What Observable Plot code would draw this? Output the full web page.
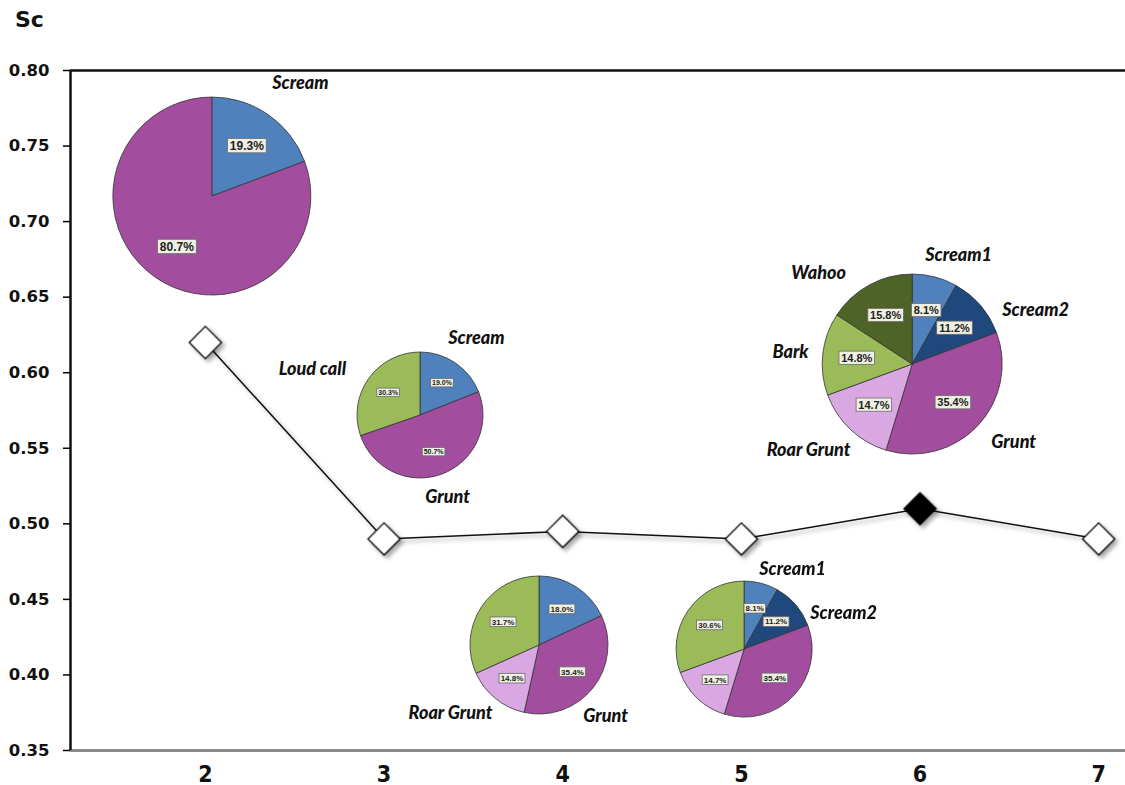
<!DOCTYPE html>
<html>
<head>
<meta charset="utf-8">
<script src="https://cdn.jsdelivr.net/npm/d3@7"></script>
<script src="https://cdn.jsdelivr.net/npm/@observablehq/plot@0.6"></script>
<style>
  body { margin: 0; background: #fff; }
  #title {
    height: 45px; box-sizing: border-box; padding: 7px 0 0 15px;
    font: bold 22px "DejaVu Sans"; line-height: 26px; color: #111;
  }
  #chart svg g[aria-label="dot"],
  #chart svg g[aria-label="line"] {
    filter: drop-shadow(3px 3px 2px rgba(0, 0, 0, 0.35));
  }
</style>
</head>
<body>
<div id="title">Sc</div>
<div id="chart"></div>
<script>
// Sc value for each number of clusters k
const kValues = [2, 3, 4, 5, 6, 7];
const scValues = [0.62, 0.49, 0.495, 0.49, 0.51, 0.49];
const bestK = 6;

// axis ticks
const xTicks = [2, 3, 4, 5, 6, 7];
const yTicks = [0.35, 0.40, 0.45, 0.50, 0.55, 0.60, 0.65, 0.70, 0.75, 0.80];

// call-type composition of the clusters, one pie per k (clockwise from 12 o'clock)
const pieK = [2, 3, 4, 5, 6];
const pieCalls = [
  ["Scream", "Grunt"],
  ["Scream", "Grunt", "Loud call"],
  ["Scream", "Grunt", "Roar Grunt", "Loud call"],
  ["Scream1", "Scream2", "Grunt", "Roar Grunt", "Loud call"],
  ["Scream1", "Scream2", "Grunt", "Roar Grunt", "Bark", "Wahoo"]
];
const piePercents = [
  [19.3, 80.7],
  [19.0, 50.7, 30.3],
  [18.0, 35.4, 14.8, 31.7],
  [8.1, 11.2, 35.4, 14.7, 30.6],
  [8.1, 11.2, 35.4, 14.7, 14.8, 15.8]
];

// colour of each call type
const callColors = {
  "Scream": "#4f81bd",
  "Scream1": "#4f81bd",
  "Scream2": "#1f497d",
  "Grunt": "#a34d9f",
  "Roar Grunt": "#d9a8e2",
  "Loud call": "#9bbb59",
  "Bark": "#9bbb59",
  "Wahoo": "#4f6228"
};

// placement of each pie (chart coordinates), its radius in px and label size
const pieLayout = [
  {x: 2.039, sc: 0.7166, r: 99, fontSize: 12},
  {x: 3.204, sc: 0.5717, r: 63, fontSize: 7},
  {x: 3.870, sc: 0.4195, r: 69, fontSize: 8},
  {x: 5.018, sc: 0.4168, r: 68, fontSize: 8},
  {x: 5.959, sc: 0.6054, r: 90, fontSize: 11}
];

// call-type names written beside the pies
const callLabels = [
  {text: "Scream", x: 2.532, sc: 0.7914},
  {text: "Scream", x: 3.517, sc: 0.6226},
  {text: "Loud call", x: 2.599, sc: 0.6021},
  {text: "Grunt", x: 3.355, sc: 0.5174},
  {text: "Roar Grunt", x: 3.372, sc: 0.3745},
  {text: "Grunt", x: 4.240, sc: 0.3725},
  {text: "Scream1", x: 5.287, sc: 0.4698},
  {text: "Scream2", x: 5.572, sc: 0.4407},
  {text: "Scream1", x: 6.216, sc: 0.6776},
  {text: "Wahoo", x: 5.432, sc: 0.6657},
  {text: "Scream2", x: 6.647, sc: 0.6412},
  {text: "Bark", x: 5.275, sc: 0.6134},
  {text: "Roar Grunt", x: 5.376, sc: 0.5485},
  {text: "Grunt", x: 6.524, sc: 0.5538}
];

const points = kValues.map((k, i) => ({k, sc: scValues[i]}));
const xDomain = [1.245, 7.15];
const yDomain = [0.35, 0.80];

// approximate advance widths (em) of Liberation Sans Bold, for the label boxes
const charWidth = c => (c === "." ? 0.278 : c === "%" ? 0.889 : 0.556);
const textWidth = (s, fs) => fs * [...s].reduce((a, c) => a + charWidth(c), 0);
const fmtPct = d => d3.format(".1f")(d) + "%";

// pies drawn through the chart's own x/y scales
function pieCharts(index, scales) {
  const g = d3.create("svg:g").attr("aria-label", "call composition");
  const pie = d3.pie().sort(null).value(d => d.pct);
  pieK.forEach((k, i) => {
    const L = pieLayout[i];
    const slices = pie(pieCalls[i].map((call, j) => ({call, pct: piePercents[i][j]})));
    const arc = d3.arc().innerRadius(0).outerRadius(L.r);
    const pg = g.append("g")
      .attr("transform", `translate(${scales.x(L.x)},${scales.y(L.sc)})`);
    pg.selectAll("path").data(slices).join("path")
      .attr("d", arc)
      .attr("fill", d => callColors[d.data.call])
      .attr("stroke", "#333")
      .attr("stroke-width", 0.8)
      .attr("stroke-linejoin", "round");
    const fs = L.fontSize;
    const lab = pg.selectAll("g.lab").data(slices).join("g")
      .attr("class", "lab")
      .attr("transform", d => {
        const a = (d.startAngle + d.endAngle) / 2, rr = L.r * 0.62;
        return `translate(${rr * Math.sin(a)},${-rr * Math.cos(a)})`;
      });
    lab.append("rect")
      .attr("x", d => -(textWidth(fmtPct(d.data.pct), fs) + fs * 0.4) / 2)
      .attr("y", -fs * 0.6)
      .attr("width", d => textWidth(fmtPct(d.data.pct), fs) + fs * 0.4)
      .attr("height", fs * 1.2)
      .attr("fill", "#eff0e3")
      .attr("stroke", "#6b6b6b")
      .attr("stroke-width", 0.8);
    lab.append("text")
      .attr("text-anchor", "middle")
      .attr("dy", "0.36em")
      .attr("font-family", "Liberation Sans")
      .attr("font-weight", "bold")
      .attr("font-size", fs)
      .attr("fill", "#222")
      .text(d => fmtPct(d.data.pct));
  });
  return g.node();
}

const chart = Plot.plot({
  width: 1125,
  height: 740,
  marginTop: 25,
  marginBottom: 35,
  marginLeft: 70,
  marginRight: 0,
  style: {background: "#fff", overflow: "visible"},
  x: {domain: xDomain},
  y: {domain: yDomain},
  marks: [
    Plot.axisY({
      ticks: yTicks, tickFormat: d3.format(".2f"), tickSize: 7, tickPadding: 14,
      fontSize: 16.5, fontFamily: "DejaVu Sans", fontWeight: "bold",
      stroke: "#000", fill: "#111", strokeWidth: 1.5, label: null
    }),
    Plot.axisX({
      ticks: xTicks, tickFormat: d3.format("d"), tickSize: 0, tickPadding: 15,
      fontSize: 23, fontFamily: "DejaVu Sans Condensed", fontWeight: "bold",
      fill: "#111", label: null
    }),
    Plot.ruleY([yDomain[1]], {stroke: "#111", strokeWidth: 2.5}),
    Plot.ruleY([yDomain[0]], {stroke: "#8a8a8a", strokeWidth: 3}),
    Plot.ruleX([xDomain[0]], {y1: yDomain[0], y2: yDomain[1], stroke: "#111", strokeWidth: 2.5}),
    Plot.line(points, {x: "k", y: "sc", stroke: "#111", strokeWidth: 1.5}),
    Plot.dot(points, {
      x: "k", y: "sc", symbol: "diamond2", r: 14.5,
      fill: d => (d.k === bestK ? "#000" : "#fff"),
      stroke: "#000", strokeWidth: 1.3
    }),
    pieCharts,
    Plot.text(callLabels, {
      x: "x", y: "sc", text: "text",
      fontFamily: "Lato", fontWeight: 900, fontStyle: "italic",
      fontSize: 18, fill: "#111"
    })
  ]
});

document.getElementById("chart").appendChild(chart);
</script>
</body>
</html>
